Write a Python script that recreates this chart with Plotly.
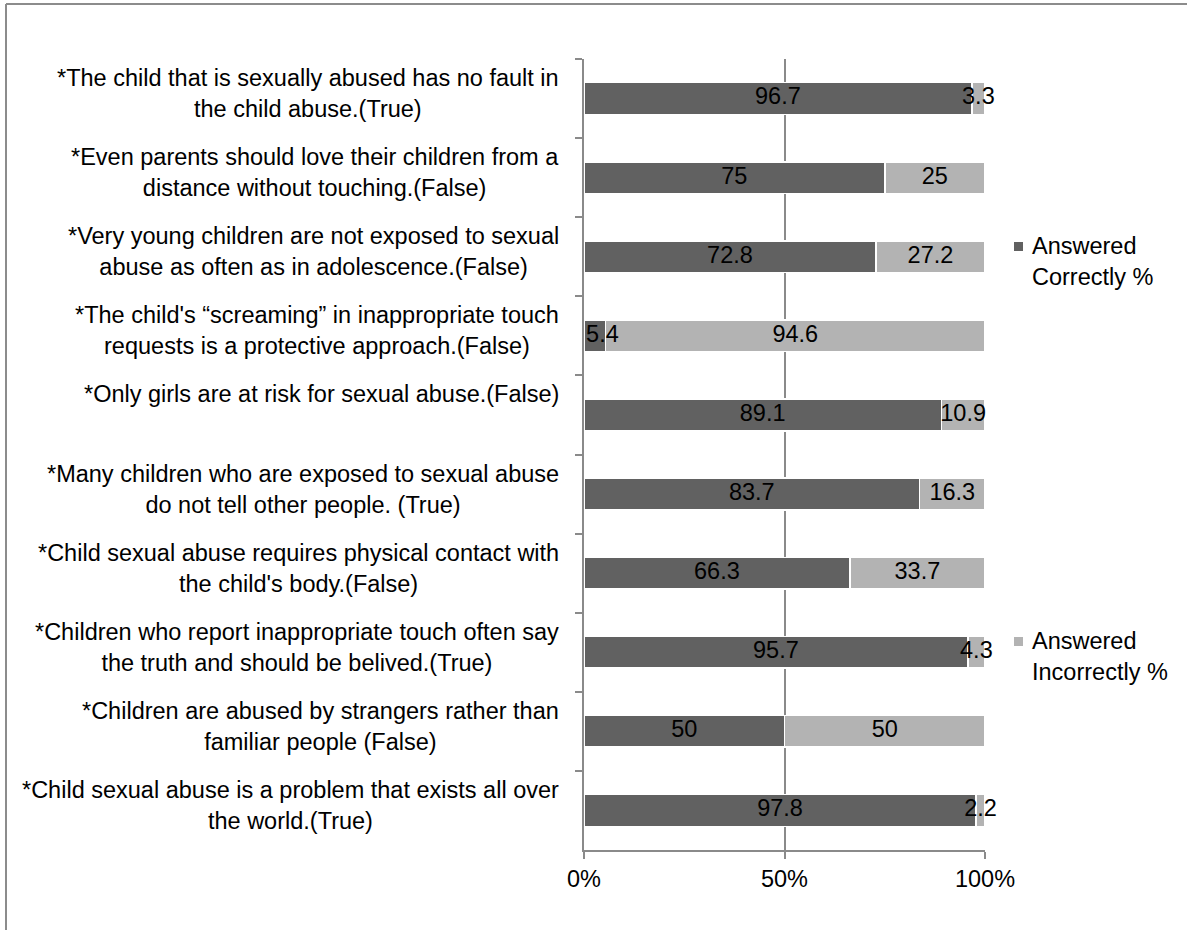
import plotly.graph_objects as go

categories = [
    "*The child that is sexually abused has no fault in<br>the child abuse.(True)",
    "*Even parents should love their children from a<br>distance without touching.(False)",
    "*Very young children are not exposed to sexual<br>abuse as often as in adolescence.(False)",
    "*The child's \u201cscreaming\u201d in inappropriate touch<br>requests is a protective approach.(False)",
    "*Only girls are at risk for sexual abuse.(False)<br> ",
    "*Many children who are exposed to sexual abuse<br>do not tell other people. (True)",
    "*Child sexual abuse requires physical contact with<br>the child's body.(False)",
    "*Children who report inappropriate touch often say<br>the truth and should be belived.(True)",
    "*Children are abused by strangers rather than<br>familiar people (False)",
    "*Child sexual abuse is a problem that exists all over<br>the world.(True)",
]
correct = [96.7, 75, 72.8, 5.4, 89.1, 83.7, 66.3, 95.7, 50, 97.8]
incorrect = [3.3, 25, 27.2, 94.6, 10.9, 16.3, 33.7, 4.3, 50, 2.2]
series_names = ["Answered<br>Correctly %", "Answered<br>Incorrectly %"]
x_ticks = [0, 50, 100]
x_tick_labels = ["0%", "50%", "100%"]

W, H = 1187, 930
L, R, T, B = 584, 985, 59, 850
FONT = "Liberation Sans, Arial, sans-serif"
FS = 23.5
DARK = "#616161"
LIGHT = "#b3b3b3"
GRID = "#8a8a8a"
MIN_LABEL_X = 4.6  # keep data labels inside the plot area (like Excel)


def px_x(p):
    return (p - L) / (R - L)


def px_y(p):
    return (B - p) / (B - T)


fig = go.Figure()
fig.add_trace(go.Bar(y=categories, x=correct, orientation="h", name="c",
                     marker=dict(color=DARK, line=dict(color="white", width=1.5)),
                     showlegend=False, hoverinfo="skip"))
fig.add_trace(go.Bar(y=categories, x=incorrect, orientation="h", name="i",
                     marker=dict(color=LIGHT, line=dict(color="white", width=1.5)),
                     showlegend=False, hoverinfo="skip"))

mid_c = [max(c / 2, MIN_LABEL_X) for c in correct]
mid_i = [c + i / 2 for c, i in zip(correct, incorrect)]
fig.add_trace(go.Scatter(y=categories, x=mid_c, mode="text",
                         text=[f"{v:g}" for v in correct],
                         textfont=dict(family=FONT, size=FS, color="#000000"),
                         showlegend=False, cliponaxis=False, hoverinfo="skip"))
fig.add_trace(go.Scatter(y=categories, x=mid_i, mode="text",
                         text=[f"{v:g}" for v in incorrect],
                         textfont=dict(family=FONT, size=FS, color="#000000"),
                         showlegend=False, cliponaxis=False, hoverinfo="skip"))

annotations = []
for cat in categories:
    annotations.append(dict(
        text=cat, xref="paper", x=px_x(561), xanchor="right",
        yref="y", y=cat, yanchor="middle", yshift=5, align="center",
        showarrow=False, font=dict(family=FONT, size=FS, color="#000000")))

# legend
legend_pos = [(246, DARK), (641, LIGHT)]
shapes = []
for (ly, col), name in zip(legend_pos, series_names):
    shapes.append(dict(type="rect", xref="paper", yref="paper",
                       x0=px_x(1014), x1=px_x(1023), y0=px_y(ly + 5), y1=px_y(ly - 4),
                       fillcolor=col, line=dict(width=0)))
    annotations.append(dict(text=name, xref="paper", x=px_x(1030), xanchor="left",
                            yref="paper", y=px_y(ly - 15), yanchor="top", align="left",
                            showarrow=False,
                            font=dict(family=FONT, size=FS, color="#000000")))

# chart frame (top and left edges)
shapes.append(dict(type="line", xref="paper", yref="paper",
                   x0=px_x(6), x1=px_x(1190), y0=px_y(4), y1=px_y(4),
                   line=dict(color="#8c8c8c", width=2)))
shapes.append(dict(type="line", xref="paper", yref="paper",
                   x0=px_x(6), x1=px_x(6), y0=px_y(4), y1=px_y(935),
                   line=dict(color="#8c8c8c", width=2)))

fig.update_layout(
    width=W, height=H,
    margin=dict(l=L, r=W - R, t=T, b=H - B, pad=0),
    barmode="stack", bargap=0.6,
    plot_bgcolor="white", paper_bgcolor="white",
    font=dict(family=FONT, size=FS, color="#000000"),
    annotations=annotations, shapes=shapes,
    xaxis=dict(range=[0, 100], tickvals=x_ticks, ticktext=x_tick_labels,
               showgrid=True, gridcolor=GRID, gridwidth=1.5,
               showline=True, linecolor=GRID, linewidth=1.5,
               ticks="outside", ticklen=7, tickcolor=GRID, tickwidth=1.5,
               tickfont=dict(family=FONT, size=FS, color="#000000"),
               zeroline=False, fixedrange=True),
    yaxis=dict(autorange="reversed", type="category", showticklabels=False,
               showline=True, linecolor=GRID, linewidth=1.5,
               ticks="outside", ticklen=7, tickcolor=GRID, tickwidth=1.5,
               tickson="boundaries", showgrid=False, zeroline=False,
               fixedrange=True),
    showlegend=False,
)

fig.write_html("out.html")
